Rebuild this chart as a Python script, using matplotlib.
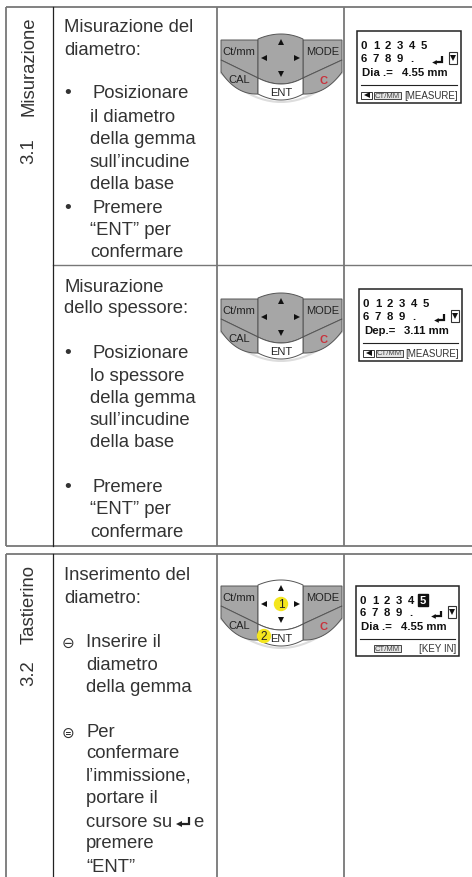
import numpy as np
import matplotlib
matplotlib.use("Agg")
import matplotlib.pyplot as plt
import matplotlib.patches as patches

plt.rcParams["font.family"] = ["Liberation Sans", "DejaVu Sans"]

INK = "#333333"
RULE = "#777777"
KEY = "#a6a6a6"
KEY_DARK = "#555555"

# section labels: text, x, y of the bottom end
side_labels = [
    ("Misurazione", 29, 116), ("3.1", 29, 164),
    ("Tastierino", 29, 644), ("3.2", 29, 686),
]

# cell text: text, x, baseline y
cell_lines = [
    ("Misurazione del", 64, 32), ("diametro:", 64, 55),
    ("Posizionare", 92, 98), ("il diametro", 90, 122),
    ("della gemma", 90, 144), ("sull\u2019incudine", 90, 167),
    ("della base", 90, 189), ("Premere", 92, 213),
    ("\u201cENT\u201d per", 90, 235), ("confermare", 90, 257),
    ("Misurazione", 64, 292), ("dello spessore:", 64, 313),
    ("Posizionare", 92, 358), ("lo spessore", 90, 381),
    ("della gemma", 90, 403), ("sull\u2019incudine", 90, 425),
    ("della base", 90, 447), ("Premere", 92, 492),
    ("\u201cENT\u201d per", 90, 514), ("confermare", 90, 537),
    ("Inserimento del", 64, 580), ("diametro:", 64, 603),
    ("Inserire il", 86, 647), ("diametro", 86, 670),
    ("della gemma", 86, 692), ("Per", 86, 737),
    ("confermare", 86, 758), ("l\u2019immissione,", 86, 781),
    ("portare il", 86, 803), ("cursore su", 86, 827),
    ("e", 193, 827), ("premere", 86, 848), ("\u201cENT\u201d", 86, 872),
]

bullet_marks = [
    ("\u2022", 68, 98), ("\u2022", 68, 213),
    ("\u2022", 68, 358), ("\u2022", 68, 492),
    ("\u2296", 68, 648), ("\u229c", 68, 738),
]

digits_top = ["0", "1", "2", "3", "4", "5"]
digits_low = ["6", "7", "8", "9", "."]
lcd_values = [
    ("Dia .=", "4.55 mm", "[MEASURE]"),
    ("Dep.=", "3.11 mm", "[MEASURE]"),
    ("Dia .=", "4.55 mm", "[KEY IN]"),
]


def curve(x0, y0, xm, ym, x1, y1, n=24):
    # quadratic through three points
    t = np.linspace(0, 1, n)
    cx = 2 * xm - (x0 + x1) / 2
    cy = 2 * ym - (y0 + y1) / 2
    xs = (1 - t) ** 2 * x0 + 2 * t * (1 - t) * cx + t ** 2 * x1
    ys = (1 - t) ** 2 * y0 + 2 * t * (1 - t) * cy + t ** 2 * y1
    return np.column_stack([xs, ys])


def enter_arrow(ax, x, y, color="black", size=1.0):
    ax.plot([x, x, x - 9 * size], [y - 7 * size, y, y], color=color,
            lw=1.6, solid_joinstyle="miter", solid_capstyle="butt")
    ax.plot(x - 10 * size, y, marker="<", ms=4.2 * size, color=color, mew=0)


def keypad(ax, dy, active=False):
    left, right = 221, 342
    c0, c1, mid = 258, 303, 281

    top = curve(c0, 40 + dy, mid, 35 + dy, c1, 40 + dy)
    low = curve(c0, 79 + dy, mid, 85 + dy, c1, 79 + dy)
    bot = curve(c0, 95 + dy, mid, 101 + dy, c1, 95 + dy)

    # soft shadow under the pad
    shadow = np.vstack([curve(left, 74 + dy, mid, 103 + dy, right, 74 + dy)])
    ax.plot(shadow[:, 0], shadow[:, 1], color="#dddddd", lw=1.5, zorder=1)

    key_style = dict(edgecolor=KEY_DARK, linewidth=0.7, zorder=2)

    # corner keys, upper then lower
    ax.add_patch(patches.Polygon(
        [(left, 41 + dy), (c0, 41 + dy), (c0, 79 + dy), (left, 61 + dy)],
        facecolor=KEY, **key_style))
    ax.add_patch(patches.Polygon(
        [(c1, 41 + dy), (right, 41 + dy), (right, 61 + dy), (c1, 79 + dy)],
        facecolor=KEY, **key_style))
    ax.add_patch(patches.Polygon(
        np.vstack([[(left, 61 + dy), (c0, 79 + dy), (c0, 95 + dy)],
                   curve(c0, 95 + dy, 238, 90 + dy, left, 73 + dy)]),
        facecolor=KEY, **key_style))
    ax.add_patch(patches.Polygon(
        np.vstack([[(right, 61 + dy), (c1, 79 + dy), (c1, 95 + dy)],
                   curve(c1, 95 + dy, 324, 90 + dy, right, 73 + dy)]),
        facecolor=KEY, **key_style))

    # centre cluster and ENT
    ax.add_patch(patches.Polygon(np.vstack([top, low[::-1]]),
                                 facecolor="white" if active else KEY,
                                 **key_style))
    ax.add_patch(patches.Polygon(np.vstack([low, bot[::-1]]),
                                 facecolor="white", **key_style))

    if active:
        ax.add_patch(patches.Circle((281, 59 + dy), 6.5, color="#f4e61e", zorder=3))
        ax.add_patch(patches.Circle((264, 91 + dy), 6.5, color="#f4e61e", zorder=3))
        ax.text(281, 59.5 + dy, "1", ha="center", va="center", fontsize=8.5,
                color="#222222", zorder=5)
        ax.text(264, 91 + dy, "2", ha="center", va="center", fontsize=8.5,
                color="#222222", zorder=5)

    for marker, x, y in [("^", 281, 43), ("<", 264, 59), (">", 297, 59), ("v", 281, 75)]:
        ax.plot(x, y + dy, marker=marker, ms=5, color="#111111", mew=0, zorder=4)

    for label, x, y, color in [("Ct/mm", 239, 52, "#222222"), ("MODE", 323, 52, "#222222"),
                               ("CAL", 239, 80, "#222222"), ("C", 323, 81, "#c8323c"),
                               ("ENT", 281, 93, "#222222")]:
        ax.text(x, y + dy, label, ha="center", va="center", fontsize=8, color=color,
                fontweight="bold" if label == "C" else "normal", zorder=5)


def lcd(ax, x0, y0, w, h, values, highlight=False, back_key=True):
    name, reading, mode = values
    k = h / 72

    ax.add_patch(patches.Rectangle((x0, y0), w, h, facecolor="white",
                                   edgecolor="#222222", linewidth=1.1))

    row1, row2, row3 = y0 + 14 * k, y0 + 27 * k, y0 + 41 * k
    step = 12
    for i, d in enumerate(digits_top):
        x = x0 + 7 + i * step
        if highlight and i == 5:
            ax.add_patch(patches.Rectangle((x - 5, row1 - 6), 10, 12, color="#111111"))
            ax.text(x, row1, d, ha="center", va="center", fontsize=8.2,
                    fontweight="bold", color="white")
        else:
            ax.text(x, row1, d, ha="center", va="center", fontsize=8.2,
                    fontweight="bold", color="#111111")
    for i, d in enumerate(digits_low):
        ax.text(x0 + 7 + i * step, row2, d, ha="center", va="center", fontsize=8.2,
                fontweight="bold", color="#111111")

    enter_arrow(ax, x0 + 85, row2 + 4, color="#111111", size=0.8)
    ax.add_patch(patches.Rectangle((x0 + 92, row2 - 6), 8, 12, facecolor="white",
                                   edgecolor="#333333", linewidth=0.8))
    ax.plot(x0 + 96, row2, marker="v", ms=5, color="#111111", mew=0)

    ax.text(x0 + 5, row3, name, ha="left", va="center", fontsize=8.2,
            fontweight="bold", color="#111111")
    ax.text(x0 + 45, row3, reading, ha="left", va="center", fontsize=8.2,
            fontweight="bold", color="#111111")

    rule_y = y0 + 54 * k
    ax.plot([x0 + 4, x0 + w - 4], [rule_y, rule_y], color="#222222", lw=0.8)

    row4 = y0 + 64 * k
    if back_key:
        ax.add_patch(patches.Rectangle((x0 + 4, row4 - 3.5), 11, 7, facecolor="white",
                                       edgecolor="#333333", linewidth=0.7))
        ax.plot(x0 + 10, row4, marker="<", ms=5, color="#111111", mew=0)
    key_x = x0 + 17 if back_key else x0 + 18
    ax.add_patch(patches.Rectangle((key_x, row4 - 3.5), 27, 7, facecolor="#e4e4e4",
                                   edgecolor="#444444", linewidth=0.7))
    ax.text(key_x + 13.5, row4, "CT/MM", ha="center", va="center", fontsize=5.6, color="#444444")
    ax.text(x0 + w - 3, row4, mode, ha="right", va="center", fontsize=7, color="#333333")


fig = plt.figure(figsize=(4.72, 8.78), dpi=100)
ax = fig.add_axes([0, 0, 1, 1])
ax.set_xlim(0, 472)
ax.set_ylim(878, 0)
ax.axis("off")

# table rules
rule = dict(color=RULE, lw=1.3, solid_capstyle="butt")
ax.plot([6, 472], [8, 8], **rule)
ax.plot([6, 472], [547, 547], **rule)
ax.plot([6, 472], [555, 555], **rule)
ax.plot([53, 472], [266, 266], color=RULE, lw=1.0)
ax.plot([6, 6], [8, 547], **rule)
ax.plot([6, 6], [555, 878], **rule)
for x in [217, 344]:
    ax.plot([x, x], [8, 547], **rule)
    ax.plot([x, x], [555, 878], **rule)
ax.plot([53, 53], [8, 547], color="#222222", lw=0.9)
ax.plot([53, 53], [555, 878], color="#222222", lw=0.9)

for text, x, y in side_labels:
    ax.text(x, y, text, rotation=90, ha="center", va="bottom", fontsize=13.3, color=INK)

for text, x, y in cell_lines:
    ax.text(x, y, text, ha="left", va="baseline", fontsize=13.3, color=INK)

for mark, x, y in bullet_marks:
    size = 14 if mark == "\u2022" else 11
    ax.text(x, y, mark, ha="center", va="baseline", fontsize=size, color=INK)

enter_arrow(ax, 189, 825, color="#222222", size=1.0)

keypad(ax, 0)
keypad(ax, 259)
keypad(ax, 546, active=True)

lcd(ax, 357, 32, 103.5, 72, lcd_values[0])
lcd(ax, 359, 290, 103, 72, lcd_values[1])
lcd(ax, 356, 587, 103, 70, lcd_values[2], highlight=True, back_key=False)

fig.savefig("out.png", dpi=100)
